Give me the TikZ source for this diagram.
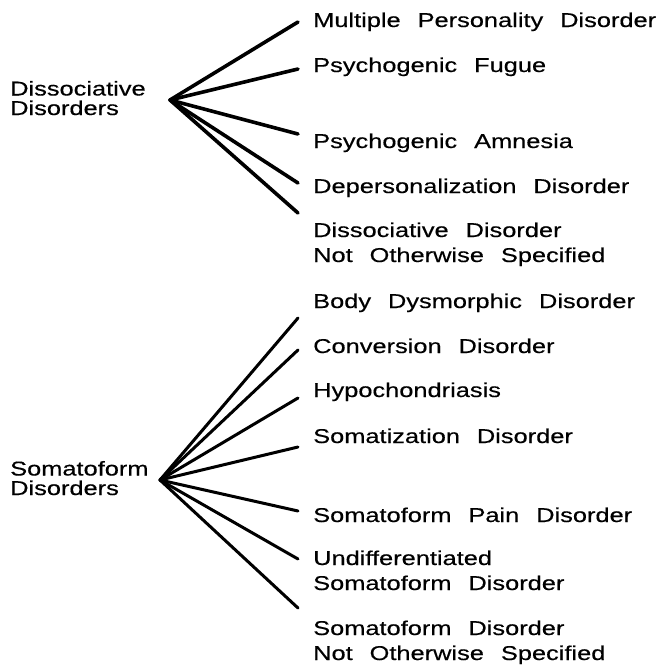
\documentclass[tikz,border=0pt]{standalone}
\usepackage{fontspec}
\setmainfont{Liberation Sans}[FakeStretch=1.27, WordSpace=2.4, FakeBold=0.4]
\usetikzlibrary{positioning}

\begin{document}
\begin{tikzpicture}[x=1pt, y=-1pt,
    group/.style={anchor=base west, inner sep=0pt, align=left, font=\fontsize{20}{19.5}\selectfont},
    item/.style={anchor=base west, inner sep=0pt, align=left, font=\fontsize{20}{25}\selectfont},
    branch/.style={line width=3.6pt, line cap=round}]
        \useasboundingbox (0,0) rectangle (663,665);

        % Hubs
        \coordinate (dis) at (170,100);
        \coordinate (som) at (160,480);

        % Group labels (anchored on the last line)
        \node[group] (dislabel) at (10,115) {Dissociative\\Disorders};
        \node[group] (somlabel) at (10,495) {Somatoform\\Disorders};

        % Dissociative branches
        \foreach \n/\y in {1/22, 2/69, 3/134, 4/183, 5/213} {
            \coordinate (d\n) at (298,\y);
            \draw[branch] (dis) -- (d\n);
        }

        % Somatoform branches
        \foreach \n/\y in {1/318, 2/350, 3/398, 4/447, 5/511, 6/559, 7/608} {
            \coordinate (s\n) at (298,\y);
            \draw[branch, line width=3pt] (som) -- (s\n);
        }

        % Dissociative disorders
        \node[item] (mpd) at (313,27) {Multiple Personality Disorder};
        \node[item] (fugue) at (313,72) {Psychogenic Fugue};
        \node[item] (amnesia) at (313,148) {Psychogenic Amnesia};
        \node[item] (deper) at (313,193) {Depersonalization Disorder};
        \node[item] (disnos) at (313,262) {Dissociative Disorder\\Not Otherwise Specified};

        % Somatoform disorders
        \node[item] (bdd) at (313,308) {Body Dysmorphic Disorder};
        \node[item] (conv) at (313,353) {Conversion Disorder};
        \node[item] (hypo) at (313,397) {Hypochondriasis};
        \node[item] (somat) at (313,443) {Somatization Disorder};
        \node[item] (pain) at (313,522) {Somatoform Pain Disorder};
        \node[item] (undiff) at (313,590) {Undifferentiated\\Somatoform Disorder};
        \node[item] (somnos) at (313,660) {Somatoform Disorder\\Not Otherwise Specified};
    \end{tikzpicture}
\end{document}
